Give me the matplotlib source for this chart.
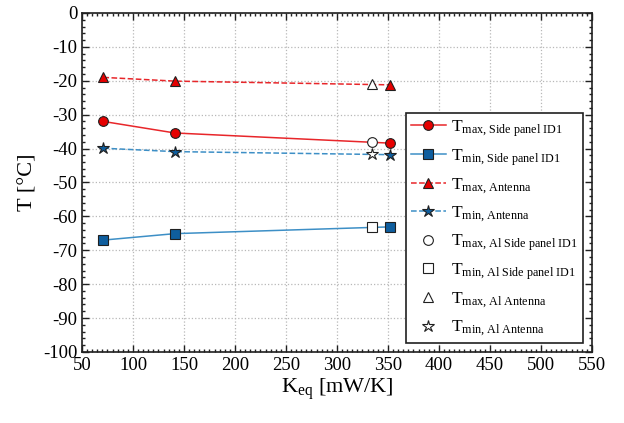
import matplotlib
matplotlib.use("Agg")
import matplotlib.pyplot as plt
from matplotlib.ticker import MultipleLocator

plt.rcParams['font.family'] = ['Liberation Serif', 'DejaVu Serif']
plt.rcParams['mathtext.fontset'] = 'custom'
plt.rcParams['mathtext.rm'] = 'Liberation Serif'
plt.rcParams['mathtext.it'] = 'Liberation Serif:italic'
plt.rcParams['axes.unicode_minus'] = False

keq = [71, 141, 352]
tmax_sp = [-32.0, -35.4, -38.4]
tmin_sp = [-67.0, -65.1, -63.1]
tmax_ant = [-19.0, -20.1, -21.2]
tmin_ant = [-39.9, -40.9, -41.8]

keq_al = [334]
tmax_sp_al = [-38.2]
tmin_sp_al = [-63.1]
tmax_ant_al = [-21.0]
tmin_ant_al = [-41.5]

red_line = '#e8262a'
red_fill = '#e60000'
blue_line = '#3d8fc6'
blue_fill = '#0f5e9e'

fig = plt.figure(figsize=(6.24, 4.23), dpi=100)
ax = fig.add_axes([0.1314, 0.168, 0.8173, 0.8013])

ms = 7
ax.plot(keq, tmax_sp, '-', color=red_line, lw=1.1, marker='o', ms=ms,
        mfc=red_fill, mec='#202020', mew=0.8,
        label=r'T$_{\mathrm{max{,}\ Side\ panel\ ID1}}$', zorder=3)
ax.plot(keq, tmin_sp, '-', color=blue_line, lw=1.1, marker='s', ms=ms - 0.5,
        mfc=blue_fill, mec='#202020', mew=0.8,
        label=r'T$_{\mathrm{min{,}\ Side\ panel\ ID1}}$', zorder=3)
ax.plot(keq, tmax_ant, '--', color=red_line, lw=1.1, marker='^', ms=ms,
        mfc=red_fill, mec='#202020', mew=0.8,
        label=r'T$_{\mathrm{max{,}\ Antenna}}$', zorder=3)
ax.plot(keq, tmin_ant, '--', color=blue_line, lw=1.1, marker='*', ms=ms + 2,
        mfc=blue_fill, mec='#202020', mew=0.8,
        label=r'T$_{\mathrm{min{,}\ Antenna}}$', zorder=3)

ax.plot(keq_al, tmax_sp_al, 'o', ms=ms, mfc='white', mec='#202020', mew=0.8,
        label=r'T$_{\mathrm{max{,}\ Al\ Side\ panel\ ID1}}$', zorder=4)
ax.plot(keq_al, tmin_sp_al, 's', ms=ms - 0.5, mfc='white', mec='#202020', mew=0.8,
        label=r'T$_{\mathrm{min{,}\ Al\ Side\ panel\ ID1}}$', zorder=4)
ax.plot(keq_al, tmax_ant_al, '^', ms=ms, mfc='white', mec='#202020', mew=0.8,
        label=r'T$_{\mathrm{max{,}\ Al\ Antenna}}$', zorder=4)
ax.plot(keq_al, tmin_ant_al, '*', ms=ms + 2, mfc='white', mec='#202020', mew=0.8,
        label=r'T$_{\mathrm{min{,}\ Al\ Antenna}}$', zorder=4)

ax.set_xlim(50, 550)
ax.set_ylim(-100, 0)
ax.xaxis.set_major_locator(MultipleLocator(50))
ax.xaxis.set_minor_locator(MultipleLocator(5))
ax.yaxis.set_major_locator(MultipleLocator(10))
ax.yaxis.set_minor_locator(MultipleLocator(2))
ax.tick_params(which='both', direction='in', top=True, right=True, labelsize=13.5, width=1.0, color='#202020')
ax.tick_params(which='major', length=5)
ax.tick_params(which='minor', length=2.5)
ax.grid(True, which='major', linestyle=':', color='#b8b8b8', lw=0.9)
for s in ax.spines.values():
    s.set_linewidth(1.2)
    s.set_color('#202020')

ax.set_xlabel(r'K$_{\mathrm{eq}}$ [mW/K]', fontsize=16, labelpad=2)
ax.set_ylabel('T [°C]', fontsize=16, labelpad=4)

leg = ax.legend(loc='upper right', bbox_to_anchor=(0.982, 0.705), borderaxespad=0,
                fontsize=12.5, frameon=True, fancybox=False, framealpha=1,
                edgecolor='#202020', handlelength=2.0, labelspacing=0.48,
                borderpad=0.3, handletextpad=0.3)
leg.get_frame().set_linewidth(1.2)

fig.savefig('out.png', dpi=100)
